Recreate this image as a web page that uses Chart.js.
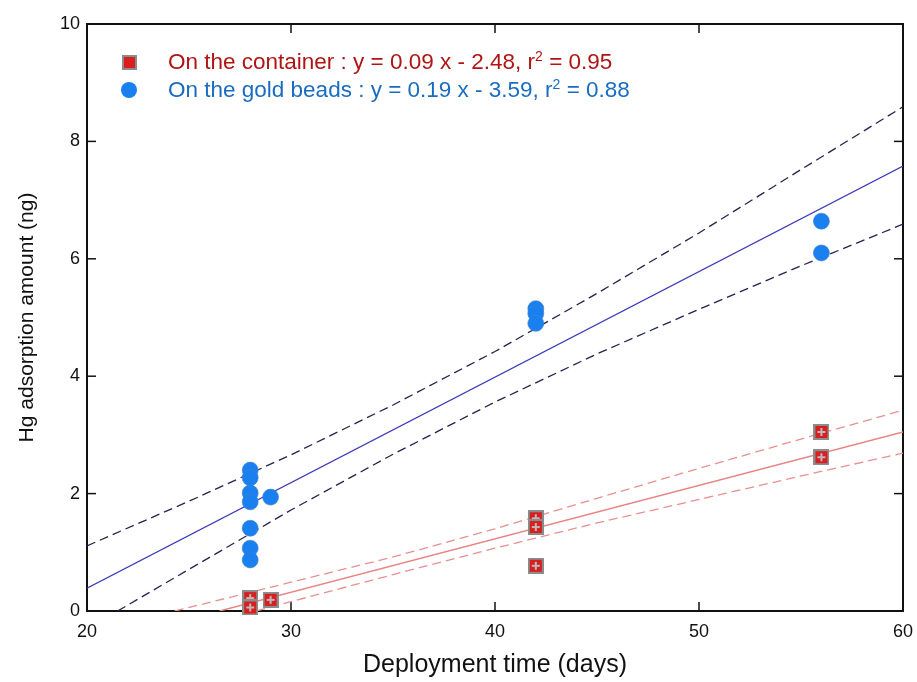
<!DOCTYPE html>
<html>
<head>
<meta charset="utf-8">
<script src="https://cdn.jsdelivr.net/npm/chart.js@4/dist/chart.umd.min.js"></script>
<style>
body{margin:0;background:#fff;}
#wrap{position:relative;width:917px;height:682px;}
.leg{position:absolute;left:168px;font-family:"Liberation Sans",Arial,sans-serif;font-size:22.5px;white-space:nowrap;line-height:24px;}
.leg sup{font-size:14px;line-height:0;}
.mk{position:absolute;}
</style>
</head>
<body>
<div id="wrap">
<canvas id="myChart" width="917" height="682"></canvas>
<div class="mk" style="left:122px;top:55px;width:11px;height:11px;background:#d81e1e;border:2px solid #8c8c8c;"></div>
<div class="mk" style="left:121px;top:82px;width:16px;height:16px;border-radius:50%;background:#1a80f0;"></div>
<div class="leg" style="top:50px;color:#b01414;">On the container : y = 0.09 x - 2.48, r<sup>2</sup> = 0.95</div>
<div class="leg" style="top:78px;color:#1a6cc0;">On the gold beads : y = 0.19 x - 3.59, r<sup>2</sup> = 0.88</div>
</div>
<script>
// measured points
const goldX=[28,28,28,28,28,28,28,29,42,42,42,56,56];
const goldY=[2.40,2.27,2.01,1.86,1.41,1.07,0.87,1.94,5.15,5.07,4.90,6.64,6.10];
const contX=[28,28,29,42,42,42,56,56];
const contY=[0.22,0.06,0.19,1.58,1.43,0.77,3.05,2.62];

// fit lines and bands
const goldFitX=[20,60], goldFitY=[0.39,7.58];
const goldUpX=[20,25,30,35,40,45,50,55,60], goldUpY=[1.11,1.87,2.66,3.51,4.42,5.41,6.44,7.52,8.59];
const goldLoX=[21.5,25,30,35,40,45,50,55,60], goldLoY=[0,0.71,1.72,2.67,3.56,4.38,5.14,5.88,6.59];
const contFitX=[26.5,60], contFitY=[0,3.05];
const contUpX=[24.3,30,35,40,45,50,55,60], contUpY=[0,0.49,0.92,1.40,1.92,2.43,2.93,3.42];
const contLoX=[28.3,30,35,40,45,50,55,60], contLoY=[0,0.16,0.62,1.07,1.50,1.90,2.30,2.69];

const xTicks=[20,30,40,50,60];
const yTicks=[0,2,4,6,8,10];

function pts(xs,ys){ return xs.map((x,i)=>({x:x,y:ys[i]})); }

function makeSquare(){
  var c=document.createElement('canvas'); c.width=16; c.height=16;
  var g=c.getContext('2d');
  g.fillStyle='#8c8c8c'; g.fillRect(0,0,16,16);
  g.fillStyle='#d81e1e'; g.fillRect(2,2,12,12);
  g.fillStyle='#c0b8b8'; g.fillRect(7,4,2,8); g.fillRect(4,7,8,2);
  return c;
}
const sq=makeSquare();

function lineSet(xs,ys,color,dash,w){
  return {data:pts(xs,ys),showLine:true,pointRadius:0,borderColor:color,borderWidth:w,borderDash:dash,fill:false,order:5};
}

// frame with inward ticks
const frame={
  id:'frame',
  beforeDatasetsDraw(chart){
    var a=chart.chartArea, c=chart.ctx, xs=chart.scales.x, ys=chart.scales.y;
    c.save();
    c.strokeStyle='#111'; c.lineWidth=1.5;
    xTicks.slice(1,-1).forEach(function(v){
      var p=xs.getPixelForValue(v);
      c.beginPath(); c.moveTo(p,a.bottom); c.lineTo(p,a.bottom-9); c.stroke();
      c.beginPath(); c.moveTo(p,a.top); c.lineTo(p,a.top+9); c.stroke();
    });
    yTicks.slice(1,-1).forEach(function(v){
      var p=ys.getPixelForValue(v);
      c.beginPath(); c.moveTo(a.left,p); c.lineTo(a.left+9,p); c.stroke();
      c.beginPath(); c.moveTo(a.right,p); c.lineTo(a.right-9,p); c.stroke();
    });
    c.lineWidth=2;
    c.strokeRect(a.left,a.top,a.right-a.left,a.bottom-a.top);
    c.restore();
  }
};

var ctx=document.getElementById('myChart').getContext('2d');
var myChart=new Chart(ctx,{
  type:'scatter',
  data:{
    datasets:[
      {data:pts(contX,contY),pointStyle:sq,pointRadius:8,clip:false,order:1},
      {data:pts(goldX,goldY),pointStyle:'circle',pointRadius:8,pointBackgroundColor:'#1a80f0',pointBorderColor:'#3f7fc8',pointBorderWidth:0.6,clip:false,order:2},
      lineSet(goldFitX,goldFitY,'#3a3ab8',[],1.2),
      lineSet(goldUpX,goldUpY,'#23234f',[9,5],1.3),
      lineSet(goldLoX,goldLoY,'#23234f',[9,5],1.3),
      lineSet(contFitX,contFitY,'#e88484',[],1.4),
      lineSet(contUpX,contUpY,'#e89090',[9,5],1.3),
      lineSet(contLoX,contLoY,'#e89090',[9,5],1.3)
    ]
  },
  options:{
    responsive:false,
    animation:false,
    layout:{padding:{top:24,right:14,left:0,bottom:0}},
    plugins:{legend:{display:false},tooltip:{enabled:false}},
    scales:{
      x:{
        type:'linear',min:20,max:60,
        afterBuildTicks:function(s){ s.ticks=xTicks.map(v=>({value:v})); },
        afterFit:function(s){ s.height=71; s.paddingLeft=0; s.paddingRight=0; },
        grid:{display:false,drawTicks:false},border:{display:false},
        ticks:{color:'#111',font:{family:'"Liberation Sans", Arial',size:18},padding:10},
        title:{display:true,text:'Deployment time (days)',color:'#111',font:{family:'"Liberation Sans", Arial',size:25},padding:{bottom:2,top:0}}
      },
      y:{
        type:'linear',min:0,max:10,
        afterBuildTicks:function(s){ s.ticks=yTicks.map(v=>({value:v})); },
        afterFit:function(s){ s.width=87; s.paddingTop=0; s.paddingBottom=0; },
        grid:{display:false,drawTicks:false},border:{display:false},
        ticks:{color:'#111',font:{family:'"Liberation Sans", Arial',size:18},padding:7},
        title:{display:true,text:'Hg adsorption amount (ng)',color:'#111',font:{family:'"Liberation Sans", Arial',size:21},padding:{top:15,bottom:0}}
      }
    }
  },
  plugins:[frame]
});
</script>
</body>
</html>
